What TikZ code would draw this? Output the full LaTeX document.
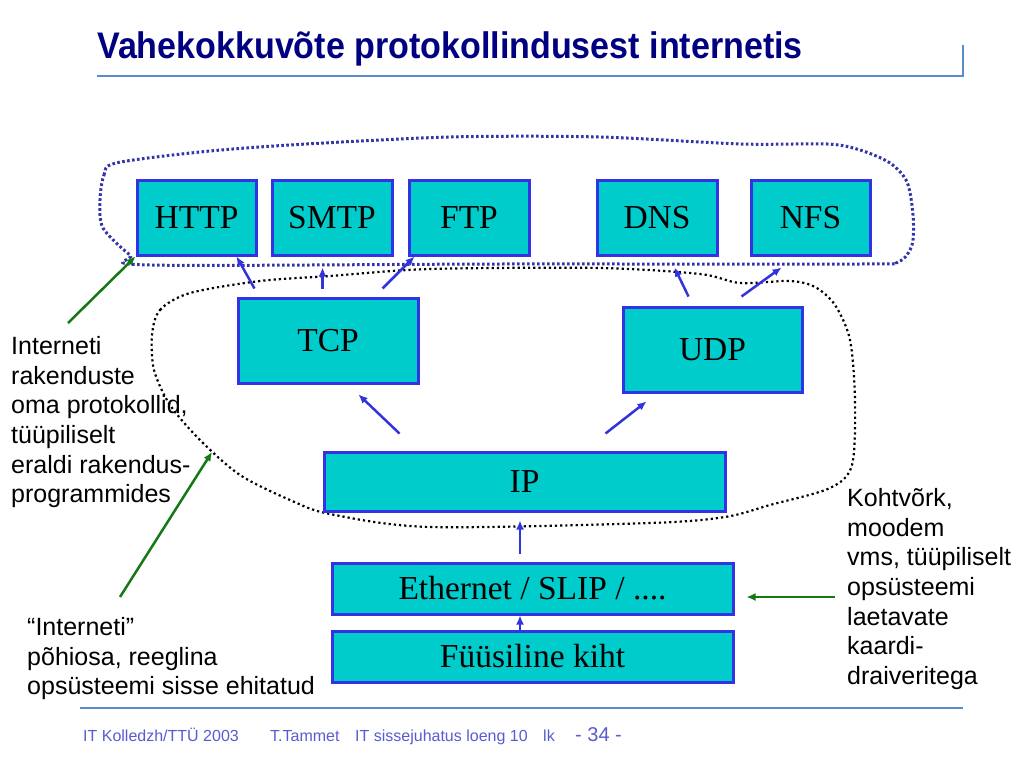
\documentclass[tikz,border=0pt]{standalone}
\usepackage{fontspec}
\setmainfont{Liberation Serif}
\setsansfont{Liberation Sans}
\newfontfamily\titlefont[FakeStretch=0.92]{Liberation Sans}
\usetikzlibrary{arrows.meta}

\definecolor{boxfill}{RGB}{0,204,204}
\definecolor{boxline}{RGB}{51,51,230}
\definecolor{arrblue}{RGB}{51,51,220}
\definecolor{dotblue}{RGB}{51,51,170}
\definecolor{arrgreen}{RGB}{20,120,20}
\definecolor{titleblue}{RGB}{0,0,128}
\definecolor{rule}{RGB}{90,140,200}
\definecolor{foot}{RGB}{90,90,210}

\tikzset{
    box/.style={draw=boxline, fill=boxfill, line width=3pt, inner sep=0pt,
        font=\fontsize{33.5}{36}\selectfont},
    arr/.style={arrblue, line width=2.5pt, -{Latex[length=9pt,width=8pt]}},
    garr/.style={arrgreen, line width=2.5pt, -{Latex[length=9pt,width=8pt]}},
    note/.style={anchor=north west, inner sep=0pt, align=left,
        font=\sffamily\fontsize{25}{29.7}\selectfont},
    footnote/.style={anchor=base west, inner sep=0pt, foot,
        font=\sffamily\fontsize{16}{18}\selectfont}
}

\begin{document}
\begin{tikzpicture}[x=1pt, y=-1pt]
    \useasboundingbox (0,0) rectangle (1024,768);

    % title and rules
    \node[anchor=base west, inner sep=0pt, titleblue,
        font=\titlefont\bfseries\fontsize{37}{42}\selectfont] (title) at (97,59)
        {Vahekokkuvõte protokollindusest internetis};
    \draw[rule, line width=1.5pt] (97,76) -- (963,76) -- (963,45);
    \draw[rule, line width=1.5pt] (80,708) -- (963,708);

    % outlines
    \draw[dotblue, line width=3pt, dash pattern=on 2.6pt off 2.4pt]
        plot[smooth cycle, tension=0.5] coordinates {(100,200) (104,175) (116,163)
        (200,152) (290,145) (450,137) (600,137) (740,144) (827,144) (860,150)
        (890,163) (907,182) (913,215) (912,245) (898,262) (860,264) (500,264)
        (150,265) (130,255) (103,228)};
    \draw[black, line width=2.2pt, dash pattern=on 2.2pt off 3pt]
        plot[smooth cycle, tension=0.5] coordinates {(152,335) (160,310) (190,293)
        (260,281) (330,276) (430,269) (600,268) (700,274) (740,283) (790,281)
        (815,287) (835,305) (850,340) (855,400) (852,465) (830,488) (770,505)
        (725,517) (650,523) (430,527) (330,514) (290,500) (240,475) (200,440)
        (170,405) (154,370)};

    % protocol boxes
    \node[box, minimum width=119pt, minimum height=75pt] (http) at (196.5,217.5) {HTTP};
    \node[box, minimum width=120pt, minimum height=75pt] (smtp) at (332,217.5) {SMTP};
    \node[box, minimum width=120pt, minimum height=75pt] (ftp) at (469,217.5) {FTP};
    \node[box, minimum width=120pt, minimum height=75pt] (dns) at (657,217.5) {DNS};
    \node[box, minimum width=119pt, minimum height=75pt] (nfs) at (810.5,217.5) {NFS};
    \node[box, minimum width=180pt, minimum height=85pt] (tcp) at (328,340.5) {TCP};
    \node[box, minimum width=179pt, minimum height=85pt] (udp) at (712.5,349.5) {UDP};
    \node[box, minimum width=401pt, minimum height=59pt] (ip) at (524.5,481.5) {IP};
    \node[box, minimum width=401pt, minimum height=51pt] (eth) at (532.5,588.5) {Ethernet / SLIP / ....};
    \node[box, minimum width=401pt, minimum height=51pt] (phy) at (532.5,656.5) {Füüsiline kiht};

    % arrows between layers
    \draw[arr] ([xshift=18pt,yshift=8pt]tcp.north west) -- ([xshift=101pt]http.south west);
    \draw[arr] ([xshift=86pt,yshift=8pt]tcp.north west) -- ([xshift=52pt,yshift=-11pt]smtp.south west);
    \draw[arr] ([xshift=146pt,yshift=8pt]tcp.north west) -- ([xshift=7pt]ftp.south west);
    \draw[arr] ([xshift=67pt,yshift=9pt]udp.north west) -- ([xshift=79pt,yshift=-11pt]dns.south west);
    \draw[arr] ([xshift=120pt,yshift=9pt]udp.north west) -- ([xshift=32pt,yshift=-11pt]nfs.south west);
    \draw[arr] ([xshift=77pt,yshift=17pt]ip.north west) -- ([xshift=122pt,yshift=-10pt]tcp.south west);
    \draw[arr] ([xshift=283pt,yshift=17pt]ip.north west) -- ([xshift=25pt,yshift=-8pt]udp.south west);
    \draw[arr] ([xshift=-12.5pt,yshift=8pt]eth.north) -- ([xshift=-4.5pt,yshift=-8pt]ip.south);
    \draw[arr] ([xshift=-12.5pt]phy.north) -- ([xshift=-12.5pt]eth.south);

    % notes
    \node[note] (apptext) at (11,336) {Interneti\\rakenduste\\oma protokollid,\\tüüpiliselt\\eraldi rakendus-\\programmides};
    \node[note] (coretext) at (27,617) {“Interneti”\\põhiosa, reeglina\\opsüsteemi sisse ehitatud};
    \node[note] (drvtext) at (847,488) {Kohtvõrk,\\moodem\\vms, tüüpiliselt\\opsüsteemi\\laetavate\\kaardi-\\draiveritega};

    \coordinate (g1) at (68,323);
    \coordinate (g2) at (120,597);
    \coordinate (g2end) at (212,452);
    \coordinate (g3) at (835,597);
    \draw[garr] (g1) -- (http.south west);
    \draw[garr] (g2) -- (g2end);
    \draw[garr] (g3) -- ([xshift=12pt]eth.east |- g3);

    % footer
    \node[footnote] (f1) at (83,741) {IT Kolledzh/TTÜ 2003};
    \node[footnote] (f2) at (270,741) {T.Tammet};
    \node[footnote] (f3) at (355,741) {IT sissejuhatus loeng 10};
    \node[footnote] (f4) at (543,741) {lk};
    \node[footnote, font=\sffamily\fontsize{20}{22}\selectfont] (f5) at (575,741) {- 34 -};
\end{tikzpicture}
\end{document}
